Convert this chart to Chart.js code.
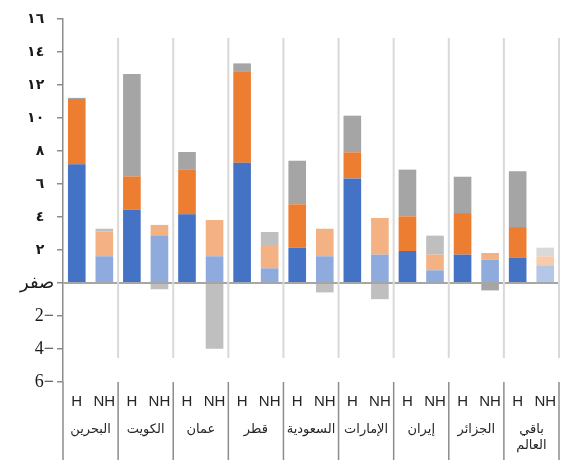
<!DOCTYPE html>
<html>
<head>
<meta charset="utf-8">
<script src="https://cdn.jsdelivr.net/npm/chart.js@4"></script>
<style>
  html, body { margin: 0; padding: 0; background: #ffffff; }
  #wrap { width: 563px; height: 464px; position: relative; }
</style>
</head>
<body>
<div id="wrap"><canvas id="c"></canvas></div>
<script>
// ---- data ----
const countries = ['البحرين', 'الكويت', 'عمان', 'قطر', 'السعودية', 'الإمارات', 'إيران', 'الجزائر', ['باقي', 'العالم']];
const subCategories = ['H', 'NH'];
// bar order: for each country H then NH
const seriesBlue   = [7.20, 1.62, 4.46, 2.89, 4.16, 1.62, 7.29, 0.89, 2.14, 1.62, 6.34, 1.72, 1.94, 0.77, 1.72, 1.41, 1.52, 1.07];
const seriesOrange = [3.95, 1.49, 2.00, 0.63, 2.73, 2.20, 5.50, 1.35, 2.63, 1.67, 1.58, 2.22, 2.10, 0.95, 2.52, 0.41, 1.87, 0.55];
const seriesGray   = [0.07, 0.18, 6.21, -0.38, 1.05, -3.98, 0.52, 0.85, 2.64, -0.57, 2.22, -0.98, 2.83, 1.15, 2.20, -0.45, 3.38, 0.52];
const yTickValues = [16, 14, 12, 10, 8, 6, 4, 2, 0, -2, -4, -6];
const yTickLabels = ['١٦', '١٤', '١٢', '١٠', '٨', '٦', '٤', '٢', 'صفر', '2−', '4−', '6−'];

// ---- build ----
const barLabels = [];
countries.forEach(() => subCategories.forEach(s => barLabels.push(s)));

const colH  = ['#4472C4', '#ED7D31', '#A5A5A5'];
const colNH = ['#8FAADC', '#F4B183', '#BFBFBF'];
const colNHlast = ['#B4C7E7', '#F8CBAD', '#D9D9D9'];
function colorsFor(k) {
  return barLabels.map((s, i) => {
    if (s === 'H') return colH[k];
    if (i === barLabels.length - 1) return colNHlast[k];
    if (k === 2 && i === 15) return '#A5A5A5';
    return colNH[k];
  });
}

const separatorPlugin = {
  id: 'separators',
  afterDraw(chart) {
    const ctx = chart.ctx;
    const xs = chart.scales.x;
    const ca = chart.chartArea;
    const n = barLabels.length;
    const bounds = [];
    for (let k = 0; k <= n; k += 2) {
      let px;
      if (k === 0) px = xs.left;
      else if (k === n) px = xs.right;
      else px = (xs.getPixelForValue(k - 1) + xs.getPixelForValue(k)) / 2;
      bounds.push(px);
    }
    ctx.save();
    ctx.strokeStyle = '#D9D9D9';
    ctx.lineWidth = 2;
    bounds.forEach((px, i) => {
      if (i === 0) return;
      ctx.beginPath();
      ctx.moveTo(px, ca.top + 19);
      ctx.lineTo(px, ca.bottom - 24);
      ctx.stroke();
    });
    ctx.strokeStyle = '#8C8C8C';
    ctx.lineWidth = 1.5;
    bounds.forEach(px => {
      ctx.beginPath();
      ctx.moveTo(px, ca.bottom);
      ctx.lineTo(px, chart.height - 4);
      ctx.stroke();
    });
    ctx.restore();
  }
};

new Chart(document.getElementById('c'), {
  type: 'bar',
  data: {
    labels: barLabels,
    datasets: [
      { label: 'a', data: seriesBlue,   backgroundColor: colorsFor(0) },
      { label: 'b', data: seriesOrange, backgroundColor: colorsFor(1) },
      { label: 'c', data: seriesGray,   backgroundColor: colorsFor(2) }
    ]
  },
  options: {
    responsive: true,
    maintainAspectRatio: false,
    animation: false,
    events: [],
    layout: { padding: { top: 19, right: 4, left: 0, bottom: 0 } },
    datasets: { bar: { categoryPercentage: 1, barPercentage: 0.64 } },
    plugins: { legend: { display: false }, tooltip: { enabled: false } },
    scales: {
      x: {
        type: 'category',
        stacked: true,
        position: 'bottom',
        weight: 0,
        grid: { display: false },
        border: { display: false },
        ticks: {
          autoSkip: false, maxRotation: 0, padding: 3,
          color: '#262626',
          font: { family: 'Liberation Sans', size: 15 }
        },
        afterFit(s) { s.height = 30; }
      },
      x2: {
        type: 'category',
        labels: countries,
        position: 'bottom',
        weight: 1,
        grid: { display: false },
        border: { display: false },
        ticks: {
          autoSkip: false, maxRotation: 0, padding: 2,
          color: '#262626',
          font: { family: 'DejaVu Sans', size: 13 }
        },
        afterFit(s) { s.height = 52; }
      },
      y: {
        stacked: true,
        min: -6, max: 16,
        afterBuildTicks(s) { s.ticks = yTickValues.map(v => ({ value: v })); },
        afterFit(s) { s.width = 63; },
        grid: { drawOnChartArea: false, drawTicks: true, tickLength: 6, color: '#8C8C8C', lineWidth: 1.5 },
        border: { display: true, color: '#8C8C8C', width: 1.5 },
        ticks: {
          padding: 3,
          color: '#1a1a1a',
          callback(v) {
            const i = yTickValues.indexOf(v);
            const t = i >= 0 ? yTickLabels[i] : '';
            return v > 0 ? t + '\u2002\u2009' : t;
          },
          font(ctx) {
            const v = ctx.tick ? ctx.tick.value : 0;
            return v > 0 ? { family: 'DejaVu Sans', size: 14, weight: 'bold' } : { family: 'Liberation Serif', size: 18 };
          }
        }
      }
    }
  },
  plugins: [separatorPlugin, {
    id: 'zeroLine',
    afterDatasetsDraw(chart) {
      const ctx = chart.ctx, ys = chart.scales.y, ca = chart.chartArea;
      const y0 = ys.getPixelForValue(0);
      ctx.save();
      ctx.strokeStyle = '#A6A6A6';
      ctx.lineWidth = 2;
      ctx.beginPath();
      ctx.moveTo(ca.left, y0);
      ctx.lineTo(ca.right, y0);
      ctx.stroke();
      ctx.restore();
    }
  }]
});
</script>
</body>
</html>
